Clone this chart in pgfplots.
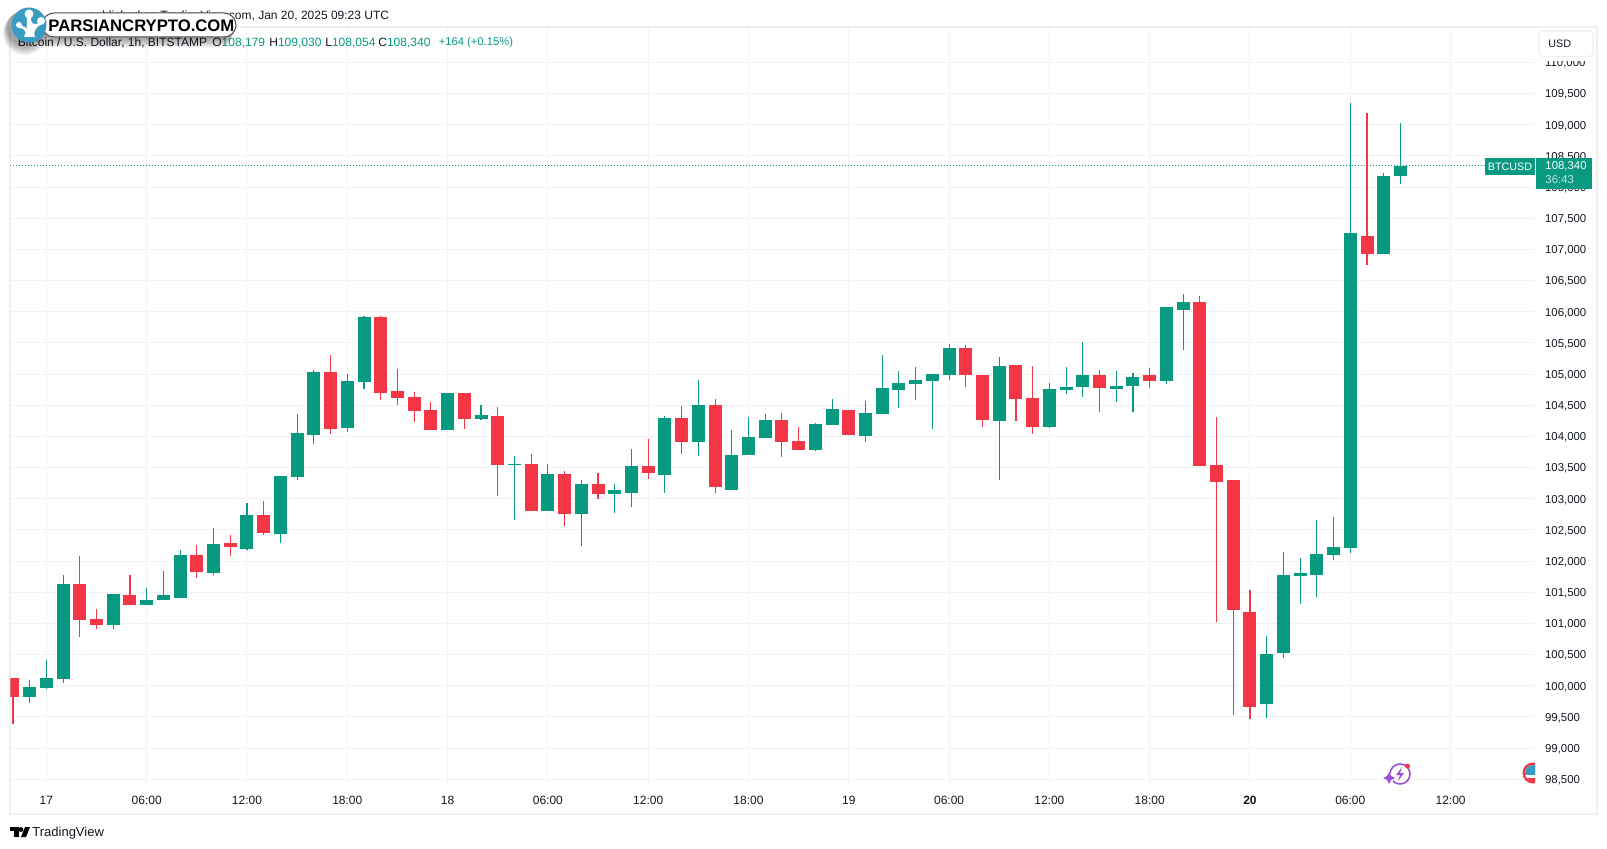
\documentclass[border=0pt]{standalone}
\usepackage{fontspec}
\setmainfont{Liberation Sans}
\usepackage{pgfplots}
\usepackage{pgfplotstable}
\pgfplotsset{compat=1.18}
\definecolor{tvg}{HTML}{089981}
\definecolor{tvr}{HTML}{F23645}
\definecolor{tvgrid}{HTML}{F2F2F5}
\definecolor{tvbord}{HTML}{EFEFF4}
\definecolor{tvtext}{HTML}{131722}
\definecolor{logob}{HTML}{3A9CC2}
\definecolor{purp}{HTML}{9B4FD6}
\pgfplotstableread{
x top bot hi lo
-1 99980 99825 100093 99729
0 100125 99970 100413 99954
1 101633 100114 101777 100050
4 101472 100980 101472 100916
6 101376 101301 101569 101301
7 101456 101376 101841 101376
8 102098 101413 102178 101413
10 102274 101815 102531 101782
12 102740 102200 102932 102184
14 103365 102440 103365 102296
15 104055 103355 104360 103307
16 105034 104028 105066 103884
18 104889 104141 105002 104077
19 105916 104879 105932 104766
24 104697 104109 104697 104109
26 104344 104285 104505 104264
28 103558 103547 103686 102665
30 103398 102809 103558 102809
32 103237 102761 103301 102248
34 103141 103082 103237 102777
35 103526 103098 103799 102873
37 104296 103387 104328 103098
39 104505 103916 104906 103692
41 103702 103146 104103 103146
42 103991 103708 104312 103708
43 104264 103980 104360 103980
46 104200 103783 104216 103767
47 104440 104184 104601 104184
49 104376 104007 104569 103911
50 104777 104360 105307 104360
51 104858 104745 105050 104456
52 104906 104841 105114 104585
53 105002 104890 105002 104120
54 105419 104986 105483 104906
57 105130 104248 105275 103301
60 104761 104152 104858 104136
61 104793 104745 105114 104681
62 104986 104793 105515 104633
64 104809 104761 105050 104553
65 104954 104809 105018 104392
67 106077 104890 106077 104841
68 106157 106029 106285 105387
73 100510 99708 100799 99483
74 101778 100526 102147 100446
75 101810 101762 102050 101312
76 102115 101778 102660 101425
77 102227 102098 102708 102018
78 107264 102211 109349 102130
80 108178 106927 108226 106927
81 108340 108179 109030 108054
}\greentable
\pgfplotstableread{
x top bot hi lo
-2 100125 99825 100125 99387
2 101633 101061 102082 100788
3 101071 100980 101232 100916
5 101456 101301 101777 101301
9 102098 101831 102258 101734
11 102290 102226 102419 102087
13 102740 102456 102964 102424
17 105034 104125 105307 104045
20 105916 104702 105932 104590
21 104729 104622 105082 104510
22 104633 104414 104713 104237
23 104424 104109 104553 104109
25 104697 104285 104697 104125
27 104328 103547 104472 103050
29 103558 102809 103718 102809
31 103398 102761 103446 102569
33 103237 103082 103414 103002
36 103526 103419 103959 103323
38 104296 103916 104488 103724
40 104505 103194 104601 103098
44 104264 103916 104376 103676
45 103927 103788 104151 103788
48 104424 104023 104424 104023
55 105419 104986 105467 104793
56 104986 104264 104986 104152
58 105146 104601 105146 104248
59 104617 104152 105130 104039
63 104986 104777 105066 104392
66 104986 104890 105098 104777
69 106157 103526 106253 103526
70 103542 103270 104312 101024
71 103302 101216 103302 99532
72 101184 99660 101537 99467
79 107216 106927 109189 106750
}\redtable
\newcommand{\wicks}[2]{%
  \addplot[draw=none,mark=none,forget plot,error bars/.cd,y dir=both,y explicit,error mark=none,
    error bar style={draw=#1,line width=0.55pt}]
    table[x=x,y=top,y error plus expr=\thisrow{hi}-\thisrow{top},y error minus expr=\thisrow{top}-\thisrow{lo}] {#2};
  \addplot[draw=none,mark=none,forget plot,error bars/.cd,y dir=minus,y explicit,error mark=none,
    error bar style={draw=#1,line width=6.5pt}]
    table[x=x,y=top,y error minus expr=\thisrow{top}-\thisrow{bot}] {#2};
}
\begin{document}
\begin{tikzpicture}
\begin{scope}[x=0.5pt,y=-0.5pt]
  \useasboundingbox (0,0) rectangle (1607,849);
  \fill[white] (0,0) rectangle (1607,849);
  \draw[tvbord,line width=1pt] (10,27) rectangle (1597,814);
  \coordinate (A) at (10.5,785);
\end{scope}
\begin{axis}[
  at={(A)},anchor=south west,scale only axis,
  width=762.25pt,height=379pt,
  xmin=-2.147,xmax=89.05,ymin=98408.6,ymax=110569,
  axis line style={draw=none},
  major tick length=0pt,
  grid=major,
  grid style={draw=tvgrid,line width=0.5pt},
  xtick={0,6,...,84},
  xticklabels={17,06:00,12:00,18:00,18,06:00,12:00,18:00,19,06:00,12:00,18:00,\textbf{20},06:00,12:00},
  x tick label style={font=\fontsize{6}{7}\selectfont,text=tvtext,anchor=center,yshift=-7.5pt},
  ytick={98500,99000,...,110000},
  yticklabel pos=right,
  y tick label style={font=\fontsize{5.7}{7}\selectfont,text=tvtext,anchor=west,xshift=1.5pt,yshift=-0.5pt,
    /pgf/number format/.cd,fixed,1000 sep={,},assume math mode=true},
  scaled y ticks=false,
]
\wicks{tvg}{\greentable}
\wicks{tvr}{\redtable}
\addplot[tvg,line width=0.5pt,densely dotted,forget plot] coordinates {(-2.147,108340) (86,108340)};
\end{axis}
\begin{scope}[x=0.5pt,y=-0.5pt,font=\fontsize{6}{7}\selectfont]
  % USD box
  \fill[white] (1536,28) rectangle (1596,61.5);
  \draw[tvbord,fill=white,rounded corners=2pt,line width=0.6pt] (1539,31) rectangle (1593,56.5);
  \node[anchor=west,inner sep=0,text=tvtext,font=\fontsize{5.4}{7}\selectfont] at (1548,44) {USD};
  % price tags
  \fill[tvg] (1485,158) rectangle (1535,175);
  \node[text=white,inner sep=0,font=\fontsize{5.4}{7}\selectfont] at (1510,166.5) {BTCUSD};
  \fill[tvg] (1536,158) rectangle (1592,189);
  \node[anchor=west,inner sep=0,text=white,font=\fontsize{5.7}{7}\selectfont] at (1545,166) {108,340};
  \node[anchor=west,inner sep=0,text=white!75!tvg,font=\fontsize{5.7}{7}\selectfont] at (1545,180) {36:43};
  % event icons
  \draw[purp,line width=0.8pt] (1400,774) circle (10);
  \fill[purp] (1402,767) -- (1396,775) -- (1400,775) -- (1398,781) -- (1404,773) -- (1400,773) -- cycle;
  \fill[white] (1389,778) circle (5);
  \fill[purp] (1389,772) -- (1391,776) -- (1395,778) -- (1391,780) -- (1389,784) -- (1387,780) -- (1383,778) -- (1387,776) -- cycle;
  \fill[tvr] (1407.5,766) circle (2.5);
  \begin{scope}
    \clip (1520,760) rectangle (1535,790);
    \fill[tvr] (1533,773) circle (10.5);
    \fill[white] (1533,773) circle (8);
    \clip (1533,773) circle (8);
    \fill[logob] (1524,765) rectangle (1541,775);
    \fill[tvr] (1524,778) rectangle (1541,782);
  \end{scope}
  % header lines
  \node[anchor=east,inner sep=0,text=tvtext] at (389.5,16) {published on TradingView.com, Jan 20, 2025 09:23 UTC};
  \node[anchor=west,inner sep=0,text=tvtext] at (17.5,43) {Bitcoin / U.S. Dollar, 1h, BITSTAMP};
  \node[anchor=west,inner sep=0,text=tvtext] at (212,43) {O\textcolor{tvg}{108,179}};
  \node[anchor=west,inner sep=0,text=tvtext] at (269,43) {H\textcolor{tvg}{109,030}};
  \node[anchor=west,inner sep=0,text=tvtext] at (325,43) {L\textcolor{tvg}{108,054}};
  \node[anchor=west,inner sep=0,text=tvtext] at (378,43) {C\textcolor{tvg}{108,340}};
  \node[anchor=west,inner sep=0,text=tvg,font=\fontsize{5.6}{7}\selectfont] at (438.5,43) {+164 (+0.15\%)};
  % logo
  \foreach \d in {1,2,3,4,5,6}{
    \fill[black,opacity=0.07,rounded corners=5pt] (48-2*\d,13+2*\d) rectangle (236-\d,37+1.7*\d);
    \fill[black,opacity=0.07] (25,27+\d) circle (17+\d*0.8);
  }
  \draw[black!70,fill=white,rounded corners=6pt,line width=0.5pt] (42,13) rectangle (236,37);
  \fill[logob] (29,25) circle (17.5);
  \fill[white] (29,14) circle (4.5);
  \fill[white] (19,25) circle (3);
  \fill[white] (41,21) circle (4);
  \fill[white] (24,37) .. controls (27,31) and (27,25) .. (27,18) -- (31,18) .. controls (31,24) and (33,25) .. (40,23) -- (40,25) .. controls (35,28) and (33,33) .. (35,37) -- cycle;
  \fill[white] (20,26) .. controls (24,26) and (26,27) .. (28,31) -- (26,33) .. controls (25,30) and (23,28) .. (20,28) -- cycle;
  \node[anchor=west,inner sep=0,text=black,font=\fontsize{8.34}{10}\selectfont\bfseries] at (48,25.5) {PARSIANCRYPTO.COM};
  % TradingView footer
  \fill[black] (10,827) rectangle (19,831);
  \fill[black] (14,827) rectangle (19,837);
  \fill[black] (21,829.5) circle (2.4);
  \fill[black] (25,827) -- (30,827) -- (26,837) -- (21,837) -- cycle;
  \node[anchor=west,inner sep=0,text=tvtext,font=\fontsize{6.5}{8}\selectfont] at (32,833.5) {TradingView};
\end{scope}
\end{tikzpicture}
\end{document}
